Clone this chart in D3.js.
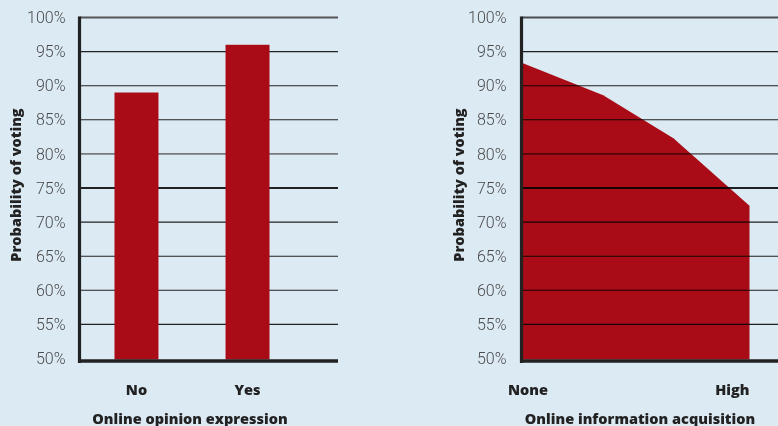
<!DOCTYPE html>
<html>
<head>
<meta charset="utf-8">
<script src="https://cdn.jsdelivr.net/npm/d3@7"></script>
<style>
  html, body { margin: 0; padding: 0; background: #dceaf4; }
  svg { display: block; }
  .tick text { font-family: Roboto, "Liberation Sans", sans-serif; font-weight: 300; font-size: 16px; fill: #4a4a4a; }
  .lbl { font-family: "Open Sans", Roboto, sans-serif; font-weight: 800; font-size: 14.5px; fill: #222; }
  .grid-over { mix-blend-mode: multiply; }
</style>
</head>
<body>
<svg id="chart" width="778" height="426"></svg>
<script>
// Probability of voting by online opinion expression
const opinionCategories = ["No", "Yes"];
const opinionValues = [89, 96];

// Probability of voting across levels of online information acquisition
const infoLevels = [0, 0.354, 0.664, 1];
const infoValues = [93.3, 88.6, 82.3, 72.4];
const infoEndLabels = ["None", "High"];

const yTicks = [50, 55, 60, 65, 70, 75, 80, 85, 90, 95, 100];
const yTitle = "Probability of voting";
const xTitles = ["Online opinion expression", "Online information acquisition"];

const RED = "#a90c16";
const svg = d3.select("#chart");

const y = d3.scaleLinear().domain([50, 100]).range([358.5, 17.5]);

function gridStyle(v) {
  if (v === 100) return { stroke: "#555", width: 2 };
  if (v === 75) return { stroke: "#222", width: 2.2 };
  if (v === 80) return { stroke: "#7a7a7a", width: 1.8 };
  return { stroke: "#222", width: 1.1 };
}

function drawGrid(g, x0, x1, cls) {
  g.append("g").attr("class", cls)
    .selectAll("line")
    .data(yTicks.filter(v => v > 50))
    .join("line")
    .attr("x1", x0).attr("x2", x1)
    .attr("y1", d => y(d)).attr("y2", d => y(d))
    .attr("stroke", d => gridStyle(d).stroke)
    .attr("stroke-width", d => gridStyle(d).width);
}

function drawYAxis(g, axisX, labelOffset) {
  const ax = g.append("g")
    .attr("transform", `translate(${axisX},0)`)
    .call(d3.axisLeft(y).tickValues(yTicks).tickSize(0).tickPadding(labelOffset).tickFormat(d => d + "%"));
  ax.select(".domain").remove();
}

function drawFrame(g, axisX, x1) {
  g.append("line")
    .attr("x1", axisX).attr("x2", axisX)
    .attr("y1", y(100) - 1).attr("y2", y(50) + 4.5)
    .attr("stroke", "#222").attr("stroke-width", 3.2);
  g.append("line")
    .attr("x1", axisX - 1.5).attr("x2", x1)
    .attr("y1", y(50) + 2.5).attr("y2", y(50) + 2.5)
    .attr("stroke", "#222").attr("stroke-width", 3.4);
}

function drawYTitle(g, cx) {
  g.append("text")
    .attr("class", "lbl")
    .attr("transform", `translate(${cx},${(y(100) + y(50)) / 2 - 3}) rotate(-90)`)
    .attr("text-anchor", "middle")
    .attr("dy", "0.35em")
    .text(yTitle);
}

// ---- Left panel: bars ----
const left = svg.append("g");
const axisL = 79.5;
const xBand = d3.scaleBand()
  .domain(opinionCategories)
  .range([axisL, axisL + 225])
  .paddingInner(0.604)
  .paddingOuter(0.315);

drawGrid(left, axisL, 338, "grid");
left.selectAll("rect.bar")
  .data(opinionCategories)
  .join("rect")
  .attr("class", "bar")
  .attr("x", d => xBand(d))
  .attr("width", xBand.bandwidth())
  .attr("y", (d, i) => y(opinionValues[i]))
  .attr("height", (d, i) => y(50) - y(opinionValues[i]) + 1)
  .attr("fill", RED);
drawFrame(left, axisL, 338);
drawYAxis(left, axisL, 14);
drawYTitle(left, 16);

left.selectAll("text.cat")
  .data(opinionCategories)
  .join("text")
  .attr("class", "lbl cat")
  .attr("x", d => xBand(d) + xBand.bandwidth() / 2)
  .attr("y", 394.5)
  .attr("text-anchor", "middle")
  .text(d => d);

left.append("text")
  .attr("class", "lbl")
  .attr("x", 190).attr("y", 423.5)
  .attr("text-anchor", "middle")
  .text(xTitles[0]);

// ---- Right panel: area ----
const right = svg.append("g");
const axisR = 521.5;
const xLin = d3.scaleLinear().domain([0, 1]).range([523, 749.5]);

const area = d3.area()
  .x((d, i) => xLin(infoLevels[i]))
  .y0(y(50) + 1)
  .y1(d => y(d));

right.append("path")
  .datum(infoValues)
  .attr("d", area)
  .attr("fill", RED);
drawGrid(right, axisR, 778, "grid grid-over");
drawFrame(right, axisR, 778);
drawYAxis(right, axisR, 15);
drawYTitle(right, 459);

right.append("text")
  .attr("class", "lbl")
  .attr("x", xLin(0) + 5).attr("y", 394.5)
  .attr("text-anchor", "middle")
  .text(infoEndLabels[0]);
right.append("text")
  .attr("class", "lbl")
  .attr("x", xLin(1)).attr("y", 394.5)
  .attr("text-anchor", "end")
  .text(infoEndLabels[1]);

right.append("text")
  .attr("class", "lbl")
  .attr("x", 640).attr("y", 423.5)
  .attr("text-anchor", "middle")
  .text(xTitles[1]);
</script>
</body>
</html>
